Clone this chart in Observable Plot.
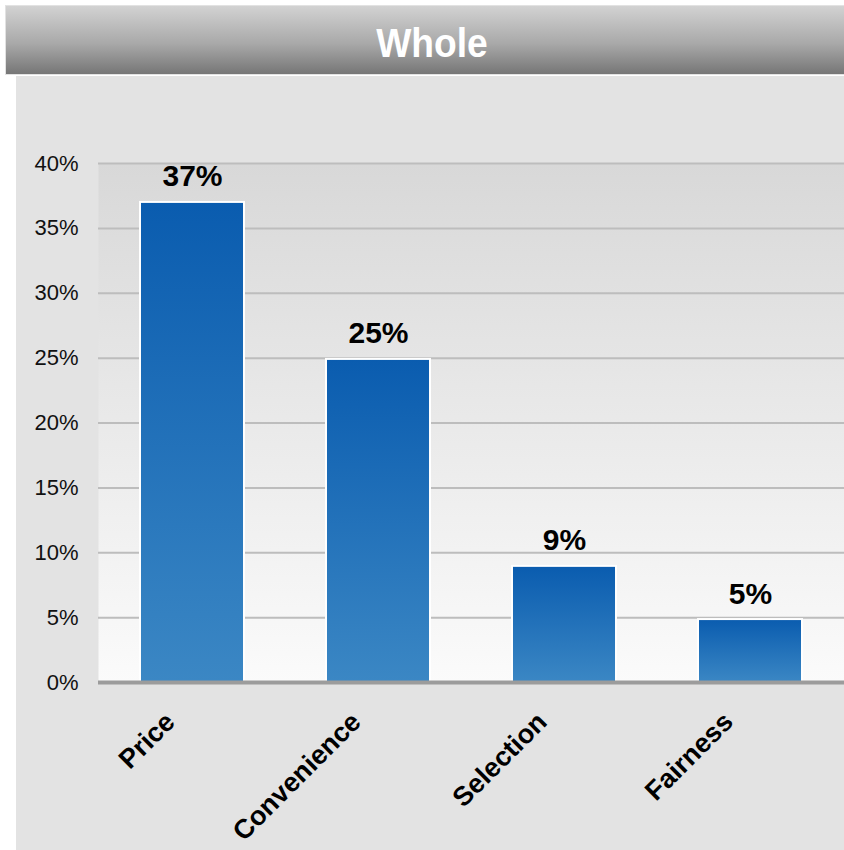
<!DOCTYPE html>
<html>
<head>
<meta charset="utf-8">
<script src="https://cdn.jsdelivr.net/npm/d3@7"></script>
<script src="https://cdn.jsdelivr.net/npm/@observablehq/plot@0.6"></script>
<style>
  html, body { margin: 0; padding: 0; background: #ffffff; }
  body { width: 844px; height: 850px; overflow: hidden; position: relative; font-family: "Liberation Sans", Arial, sans-serif; }
  #header {
    position: absolute; left: 5px; top: 5px; width: 850px; height: 68px;
    background: linear-gradient(to bottom, #d2d2d2 0%, #a9a9a9 55%, #767676 100%);
    border: 1px solid #e2e2e2;
    text-align: center;
  }
  #header span {
    position: absolute; left: 2px; right: 0; top: 14px;
    color: #ffffff; font-weight: bold; font-size: 40px; line-height: 46px;
    display: block; transform: scaleX(0.93);
  }
  #panel { position: absolute; left: 16px; top: 76px; width: 828px; height: 774px; background: #e3e3e3; }
  #chart { position: absolute; left: 0; top: 0; }
</style>
</head>
<body>
<div id="header"><span>Whole</span></div>
<div id="panel"></div>
<div id="chart"></div>
<script>
const categories = ["Price", "Convenience", "Selection", "Fairness"];
const values = [37, 24.9, 8.95, 4.85];
const valueLabels = ["37%", "25%", "9%", "5%"];
const yTicks = [0, 5, 10, 15, 20, 25, 30, 35, 40];

const data = categories.map((c, i) => ({cat: c, value: values[i], label: valueLabels[i]}));

const svg = Plot.plot({
  width: 844,
  height: 850,
  marginTop: 163,
  marginBottom: 168,
  marginLeft: 98,
  marginRight: 0,
  style: {background: "transparent", fontFamily: "'Liberation Sans', Arial, sans-serif", color: "#111"},
  x: {domain: categories, paddingInner: 0.44, paddingOuter: 0.22, align: 0.5, axis: null},
  y: {domain: [0, 40], label: null},
  marks: [
    Plot.frame({fill: "url(#plotGrad)", stroke: "none"}),
    Plot.ruleY(yTicks.filter(t => t > 0), {stroke: "#bdbdbd", strokeWidth: 2}),
    Plot.axisY({ticks: yTicks, tickFormat: d => d + "%", tickSize: 0, tickPadding: 20, fontSize: 22, label: null}),
    Plot.barY(data, {x: "cat", y: "value", fill: "url(#barGrad)", stroke: "#ffffff", strokeWidth: 2}),
    Plot.ruleY([0], {stroke: "#9c9c9c", strokeWidth: 4}),
    Plot.text(data, {x: "cat", y: "value", text: "label", dy: -16, lineAnchor: "bottom", fontSize: 30, fontWeight: "bold", fill: "#000"}),
    Plot.text(categories, {x: d => d, y: () => 0, text: d => d, rotate: -45, textAnchor: "end", lineAnchor: "bottom", dx: -16, dy: 41, fontSize: 27, fontWeight: "bold", fill: "#000"})
  ]
});

const defs = d3.select(svg).insert("defs", ":first-child");
const pg = defs.append("linearGradient").attr("id", "plotGrad").attr("x1", 0).attr("y1", 0).attr("x2", 0).attr("y2", 1);
pg.append("stop").attr("offset", "0%").attr("stop-color", "#d8d8d8");
pg.append("stop").attr("offset", "100%").attr("stop-color", "#fbfbfb");
const bg = defs.append("linearGradient").attr("id", "barGrad").attr("x1", 0).attr("y1", 0).attr("x2", 0).attr("y2", 1);
bg.append("stop").attr("offset", "0%").attr("stop-color", "#0a5caf");
bg.append("stop").attr("offset", "100%").attr("stop-color", "#3b87c4");

document.getElementById("chart").appendChild(svg);
</script>
</body>
</html>
